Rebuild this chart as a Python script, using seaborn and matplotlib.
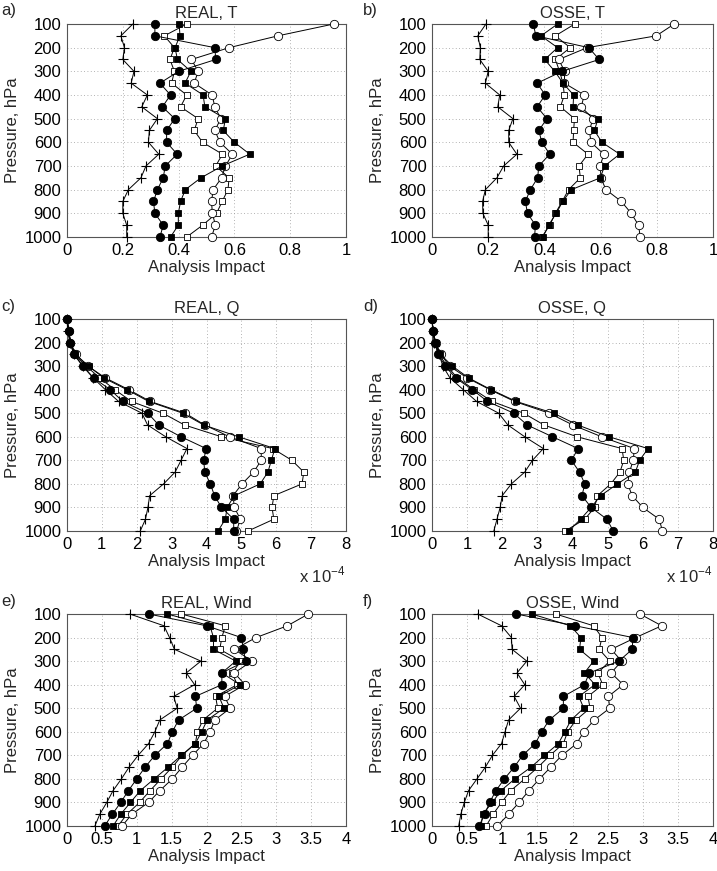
import numpy as np
import pandas as pd
import matplotlib
matplotlib.use("Agg")
import matplotlib.pyplot as plt
import seaborn as sns

sns.set_theme(style="white")
plt.rcParams['font.family'] = ['Liberation Sans', 'DejaVu Sans']
plt.rcParams['mathtext.fontset'] = 'custom'
plt.rcParams['mathtext.rm'] = 'Liberation Sans'

levels = [100, 150, 200, 250, 300, 350, 400, 450, 500, 550, 600, 650, 700, 750, 800, 850, 900, 950, 1000]

series_names = ["plus", "filled_circle", "filled_square", "open_square", "open_circle"]

# ---- REAL, T ----
real_t_plus = [0.236, 0.193, 0.206, 0.200, 0.240, 0.230, 0.288, 0.268, 0.324, 0.295, 0.292, 0.329, 0.283, 0.265, 0.220, 0.200, 0.200, 0.214, 0.214]
real_t_fcirc = [0.315, 0.315, 0.530, 0.533, 0.400, 0.333, 0.371, 0.342, 0.386, 0.357, 0.357, 0.395, 0.352, 0.345, 0.324, 0.310, 0.315, 0.345, 0.333]
real_t_fsq = [0.402, 0.405, 0.387, 0.396, 0.444, 0.423, 0.488, 0.494, 0.568, 0.560, 0.600, 0.655, 0.556, 0.480, 0.424, 0.407, 0.399, 0.399, 0.371]
real_t_osq = [0.429, 0.349, 0.385, 0.369, 0.385, 0.375, 0.429, 0.407, 0.470, 0.456, 0.486, 0.557, 0.533, 0.581, 0.577, 0.556, 0.536, 0.486, 0.429]
real_t_ocirc = [0.956, 0.756, 0.581, 0.446, 0.470, 0.456, 0.520, 0.530, 0.551, 0.530, 0.548, 0.593, 0.568, 0.554, 0.524, 0.518, 0.521, 0.532, 0.518]

# ---- OSSE, T ----
osse_t_plus = [0.192, 0.163, 0.172, 0.170, 0.200, 0.190, 0.241, 0.234, 0.288, 0.273, 0.273, 0.302, 0.255, 0.231, 0.190, 0.180, 0.181, 0.200, 0.200]
osse_t_fcirc = [0.360, 0.370, 0.558, 0.595, 0.463, 0.374, 0.403, 0.374, 0.409, 0.380, 0.391, 0.419, 0.380, 0.376, 0.350, 0.332, 0.340, 0.368, 0.365]
osse_t_fsq = [0.447, 0.388, 0.447, 0.401, 0.437, 0.466, 0.504, 0.502, 0.591, 0.578, 0.605, 0.668, 0.614, 0.599, 0.496, 0.465, 0.442, 0.415, 0.395]
osse_t_osq = [0.508, 0.439, 0.492, 0.439, 0.454, 0.466, 0.471, 0.457, 0.507, 0.504, 0.502, 0.555, 0.523, 0.528, 0.486, 0.463, 0.439, 0.419, 0.391]
osse_t_ocirc = [0.862, 0.798, 0.552, 0.451, 0.472, 0.471, 0.542, 0.531, 0.573, 0.560, 0.566, 0.611, 0.599, 0.601, 0.619, 0.674, 0.709, 0.735, 0.741]

# ---- REAL, Q (x 1e-4) ----
real_q_plus = [0.00, 0.02, 0.08, 0.20, 0.45, 0.75, 1.10, 1.48, 2.15, 2.31, 2.83, 3.44, 3.27, 3.10, 2.77, 2.37, 2.32, 2.25, 2.10]
real_q_fcirc = [0.00, 0.05, 0.10, 0.20, 0.46, 0.76, 1.24, 1.60, 2.32, 2.63, 3.27, 3.99, 3.92, 3.95, 4.11, 4.23, 4.43, 4.78, 4.78]
real_q_fsq = [0.00, 0.05, 0.10, 0.24, 0.62, 1.05, 1.72, 2.34, 3.32, 3.92, 4.92, 5.96, 5.86, 5.76, 5.54, 4.80, 4.59, 4.54, 4.33]
real_q_osq = [0.00, 0.05, 0.10, 0.20, 0.55, 0.94, 1.37, 1.85, 2.75, 3.37, 4.43, 5.90, 6.45, 6.79, 6.74, 5.93, 5.88, 5.93, 5.19]
real_q_ocirc = [0.00, 0.05, 0.10, 0.25, 0.60, 1.10, 1.77, 2.39, 3.39, 3.95, 4.66, 5.57, 5.57, 5.35, 5.02, 4.76, 4.80, 4.97, 4.86]

# ---- OSSE, Q (x 1e-4) ----
osse_q_plus = [0.00, 0.02, 0.07, 0.20, 0.31, 0.51, 0.89, 1.27, 1.90, 2.16, 2.64, 3.17, 2.86, 2.64, 2.26, 2.00, 1.94, 1.85, 1.76]
osse_q_fcirc = [0.00, 0.03, 0.08, 0.17, 0.38, 0.67, 1.15, 1.58, 2.33, 2.71, 3.43, 4.16, 3.97, 4.20, 4.35, 4.27, 4.53, 4.98, 5.16]
osse_q_fsq = [0.00, 0.03, 0.10, 0.24, 0.58, 1.04, 1.68, 2.40, 3.46, 4.15, 5.04, 6.15, 5.91, 5.79, 5.28, 4.80, 4.53, 4.23, 3.89]
osse_q_osq = [0.00, 0.03, 0.10, 0.20, 0.43, 0.72, 1.20, 1.71, 2.61, 3.19, 4.13, 5.41, 5.46, 5.35, 5.09, 4.71, 4.63, 4.35, 3.79]
osse_q_ocirc = [0.00, 0.03, 0.10, 0.25, 0.50, 1.00, 1.65, 2.35, 3.34, 4.01, 4.83, 5.76, 5.73, 5.62, 5.57, 5.70, 6.00, 6.47, 6.56]

# ---- REAL, Wind ----
real_w_plus = [0.90, 1.39, 1.47, 1.54, 1.92, 1.71, 1.83, 1.53, 1.58, 1.33, 1.26, 1.17, 1.02, 0.89, 0.78, 0.66, 0.57, 0.47, 0.40]
real_w_fcirc = [1.17, 2.00, 2.50, 2.53, 2.56, 2.22, 2.22, 1.84, 1.86, 1.60, 1.51, 1.44, 1.26, 1.12, 1.00, 0.88, 0.77, 0.65, 0.54]
real_w_fsq = [1.44, 2.05, 2.10, 2.10, 2.42, 2.22, 2.48, 2.18, 2.25, 2.01, 1.93, 1.84, 1.64, 1.45, 1.25, 1.05, 0.91, 0.77, 0.66]
real_w_osq = [1.64, 2.27, 2.22, 2.19, 2.49, 2.37, 2.44, 2.13, 2.16, 1.95, 1.87, 1.84, 1.65, 1.51, 1.35, 1.19, 1.04, 0.86, 0.73]
real_w_ocirc = [3.46, 3.16, 2.71, 2.40, 2.65, 2.40, 2.55, 2.26, 2.34, 2.12, 2.05, 1.96, 1.80, 1.65, 1.51, 1.33, 1.17, 0.93, 0.79]

# ---- OSSE, Wind ----
osse_w_plus = [0.65, 0.99, 1.13, 1.14, 1.35, 1.21, 1.32, 1.17, 1.26, 1.09, 1.04, 0.99, 0.86, 0.76, 0.64, 0.52, 0.46, 0.41, 0.38]
osse_w_fcirc = [1.20, 2.04, 2.86, 2.85, 2.66, 2.24, 2.17, 1.87, 1.87, 1.67, 1.56, 1.47, 1.29, 1.17, 1.03, 0.91, 0.82, 0.75, 0.67]
osse_w_fsq = [1.42, 1.97, 2.12, 2.10, 2.30, 2.17, 2.32, 2.09, 2.16, 1.98, 1.89, 1.80, 1.60, 1.41, 1.18, 0.98, 0.86, 0.72, 0.70]
osse_w_osq = [1.76, 2.30, 2.42, 2.38, 2.53, 2.36, 2.43, 2.22, 2.25, 2.05, 1.93, 1.87, 1.68, 1.51, 1.32, 1.12, 0.99, 0.87, 0.77]
osse_w_ocirc = [2.96, 3.27, 2.90, 2.55, 2.70, 2.55, 2.72, 2.51, 2.53, 2.31, 2.16, 2.06, 1.85, 1.69, 1.53, 1.38, 1.24, 1.09, 0.93]

titles = ["REAL, T", "OSSE, T", "REAL, Q", "OSSE, Q", "REAL, Wind", "OSSE, Wind"]
panel_labels = ["a)", "b)", "c)", "d)", "e)", "f)"]
y_ticks = [100, 200, 300, 400, 500, 600, 700, 800, 900, 1000]
t_ticks = [0, 0.2, 0.4, 0.6, 0.8, 1]
q_ticks = [0, 1, 2, 3, 4, 5, 6, 7, 8]
w_ticks = [0, 0.5, 1, 1.5, 2, 2.5, 3, 3.5, 4]
t_ticklabels = ["0", "0.2", "0.4", "0.6", "0.8", "1"]
q_ticklabels = ["0", "1", "2", "3", "4", "5", "6", "7", "8"]
w_ticklabels = ["0", "0.5", "1", "1.5", "2", "2.5", "3", "3.5", "4"]

panels = [
    (real_t_plus, real_t_fcirc, real_t_fsq, real_t_osq, real_t_ocirc),
    (osse_t_plus, osse_t_fcirc, osse_t_fsq, osse_t_osq, osse_t_ocirc),
    (real_q_plus, real_q_fcirc, real_q_fsq, real_q_osq, real_q_ocirc),
    (osse_q_plus, osse_q_fcirc, osse_q_fsq, osse_q_osq, osse_q_ocirc),
    (real_w_plus, real_w_fcirc, real_w_fsq, real_w_osq, real_w_ocirc),
    (osse_w_plus, osse_w_fcirc, osse_w_fsq, osse_w_osq, osse_w_ocirc),
]
xticks_list = [t_ticks, t_ticks, q_ticks, q_ticks, w_ticks, w_ticks]
xticklabels_list = [t_ticklabels, t_ticklabels, q_ticklabels, q_ticklabels, w_ticklabels, w_ticklabels]

styles = {
    "plus": dict(marker="+", ms=6.5, mfc="black", mec="black", mew=0.8),
    "filled_circle": dict(marker="o", ms=6.0, mfc="black", mec="black", mew=0.6),
    "filled_square": dict(marker="s", ms=4.5, mfc="black", mec="black", mew=0.6),
    "open_square": dict(marker="s", ms=4.5, mfc="white", mec="black", mew=0.6),
    "open_circle": dict(marker="o", ms=6.0, mfc="white", mec="black", mew=0.6),
}
draw_order = ["plus", "open_square", "open_circle", "filled_square", "filled_circle"]

FS = 12
fig = plt.figure(figsize=(7.17, 8.71), dpi=100)
W, H = 717.0, 871.0
col_left = [67, 432]
col_right = [346, 713]
row_top = [24, 319, 614]
row_bot = [237, 531, 826]
label_x = [1, 363]

for i in range(6):
    r, c = divmod(i, 2)
    ax = fig.add_axes([col_left[c] / W, 1 - row_bot[r] / H,
                       (col_right[c] - col_left[c]) / W, (row_bot[r] - row_top[r]) / H])
    data = dict(zip(series_names, panels[i]))
    for name in draw_order:
        df = pd.DataFrame({"x": data[name], "p": levels})
        st = styles[name]
        sns.lineplot(data=df, x="x", y="p", sort=False, estimator=None, ax=ax,
                     color="black", lw=0.7, marker=st["marker"], markersize=st["ms"],
                     markerfacecolor=st["mfc"], markeredgecolor=st["mec"],
                     markeredgewidth=st["mew"], clip_on=False, zorder=3)
    ax.set_xlim(xticks_list[i][0], xticks_list[i][-1])
    ax.set_ylim(1000, 100)
    ax.set_yticks(y_ticks)
    ax.set_yticklabels([str(v) for v in y_ticks])
    ax.set_xticks(xticks_list[i])
    ax.set_xticklabels(xticklabels_list[i])
    ax.grid(True, color="#9a9a9a", linestyle=(0, (1, 3)), linewidth=0.6)
    ax.tick_params(direction="in", length=3, width=0.6, colors="#555555",
                   labelcolor="black", labelsize=FS, pad=4)
    for sp in ax.spines.values():
        sp.set_color("#555555")
        sp.set_linewidth(0.8)
    ax.set_title(titles[i], fontsize=FS, pad=4)
    ax.set_xlabel("Analysis Impact", fontsize=FS, labelpad=2)
    ax.set_ylabel("Pressure, hPa", fontsize=FS, labelpad=3)
    fig.text(label_x[c] / W, 1 - (row_top[r] - 13) / H, panel_labels[i],
             fontsize=FS, ha="left", va="center")
    if r == 1:
        ax.text(1.0, -0.21, r"x 10$^{-4}$", transform=ax.transAxes,
                ha="right", va="center", fontsize=FS)

fig.savefig("out.png", dpi=100)
